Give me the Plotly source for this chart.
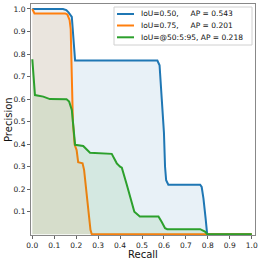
import plotly.graph_objects as go

# ---- data ----
recall_50 = [0.0, 0.14, 0.155, 0.165, 0.18, 0.185, 0.19, 0.195, 0.57, 0.58, 0.59, 0.60, 0.605,
             0.61, 0.62, 0.765, 0.772, 0.78, 0.79, 0.797, 1.0]
prec_50 = [1.0, 1.0, 0.995, 0.985, 0.965, 0.9, 0.80, 0.771, 0.771, 0.75, 0.6, 0.45, 0.30,
           0.24, 0.22, 0.22, 0.21, 0.16, 0.07, 0.0, 0.0]

recall_75 = [0.0, 0.01, 0.15, 0.16, 0.17, 0.175, 0.18, 0.185, 0.193, 0.202, 0.209, 0.229,
             0.236, 0.245, 0.255, 0.265, 0.271, 1.0]
prec_75 = [1.0, 0.98, 0.98, 0.975, 0.95, 0.91, 0.70, 0.50, 0.397, 0.374, 0.32, 0.315,
           0.286, 0.197, 0.09, 0.02, 0.0, 0.0]

recall_avg = [0.0, 0.012, 0.05, 0.08, 0.156, 0.168, 0.18, 0.187, 0.195, 0.232, 0.263, 0.362,
              0.372, 0.385, 0.40, 0.408, 0.43, 0.45, 0.465, 0.49, 0.575, 0.59, 0.605, 0.615,
              0.765, 0.787, 0.798, 1.0]
prec_avg = [0.777, 0.618, 0.611, 0.60, 0.599, 0.589, 0.552, 0.459, 0.397, 0.392, 0.362, 0.357,
            0.34, 0.315, 0.30, 0.296, 0.222, 0.148, 0.10, 0.079, 0.079, 0.055, 0.027, 0.023,
            0.023, 0.012, 0.0, 0.0]

labels = ["IoU=0.50,\u00a0\u00a0\u00a0\u00a0\u00a0AP = 0.543",
          "IoU=0.75,\u00a0\u00a0\u00a0\u00a0\u00a0AP = 0.201",
          "IoU=@50:5:95, AP = 0.218"]
colors = ["#1f77b4", "#ff7f0e", "#2ca02c"]
fills = ["rgba(31,119,180,0.1)", "rgba(255,127,14,0.1)", "rgba(44,160,44,0.1)"]

x_ticks = [i / 10 for i in range(11)]
x_ticktext = [f"{v:.1f}" for v in x_ticks]
y_ticks = [i / 10 for i in range(1, 11)]
y_ticktext = [f"{v:.1f}" for v in y_ticks]

series = [(recall_50, prec_50), (recall_75, prec_75), (recall_avg, prec_avg)]

fig = go.Figure()
for (rx, py), c, f in zip(series, colors, fills):
    fig.add_trace(go.Scatter(x=rx, y=py, mode="lines", line=dict(color=c, width=2),
                             fill="tozeroy", fillcolor=f, showlegend=False, hoverinfo="skip"))

# plot area in pixels: x 31..255, y 4..235
L, R, T, B = 31, 255, 4, 235
def px(xp):
    return (xp - L) / (R - L)
def py_(yp):
    return (B - yp) / (B - T)

shapes = [dict(type="rect", xref="paper", yref="paper", x0=px(114), x1=px(252),
               y0=py_(45), y1=py_(7), line=dict(color="#d0d0d0", width=1),
               fillcolor="rgba(255,255,255,0.8)", layer="above")]
annotations = []
rows = [14, 25.5, 37.3]
for lab, c, yr in zip(labels, colors, rows):
    shapes.append(dict(type="line", xref="paper", yref="paper", x0=px(117), x1=px(134),
                       y0=py_(yr), y1=py_(yr), line=dict(color=c, width=2), layer="above"))
    annotations.append(dict(text=lab, xref="paper", yref="paper", x=px(139), y=py_(yr),
                            xanchor="left", yanchor="middle", showarrow=False,
                            font=dict(family="DejaVu Sans", size=7.5, color="#111")))

title_font = dict(family="DejaVu Sans", size=10, color="#111")
annotations.append(dict(text="Recall", xref="paper", yref="paper", x=px(143), y=py_(254),
                        xanchor="center", yanchor="middle", showarrow=False, font=title_font))
annotations.append(dict(text="Precision", xref="paper", yref="paper", x=px(8), y=py_(120),
                        xanchor="center", yanchor="middle", showarrow=False, textangle=-90,
                        font=title_font))

axis_common = dict(showline=True, linecolor="#888", linewidth=1, mirror=True,
                   ticks="outside", ticklen=3, tickcolor="#666", showgrid=False,
                   zeroline=False, automargin=False,
                   tickfont=dict(family="DejaVu Sans", size=7.5, color="#222"))

fig.update_layout(
    width=262, height=262,
    margin=dict(l=L, r=262 - R, t=T, b=262 - B),
    paper_bgcolor="white", plot_bgcolor="white",
    shapes=shapes, annotations=annotations,
    xaxis=dict(range=[-0.006, 1.015], tickvals=x_ticks, ticktext=x_ticktext, **axis_common),
    yaxis=dict(range=[-0.003, 1.022], tickvals=y_ticks, ticktext=y_ticktext, **axis_common),
)
fig.write_html("out.html", config={"displayModeBar": False, "staticPlot": True},
               post_script="document.body.style.margin='0';document.body.style.overflow='hidden';")
